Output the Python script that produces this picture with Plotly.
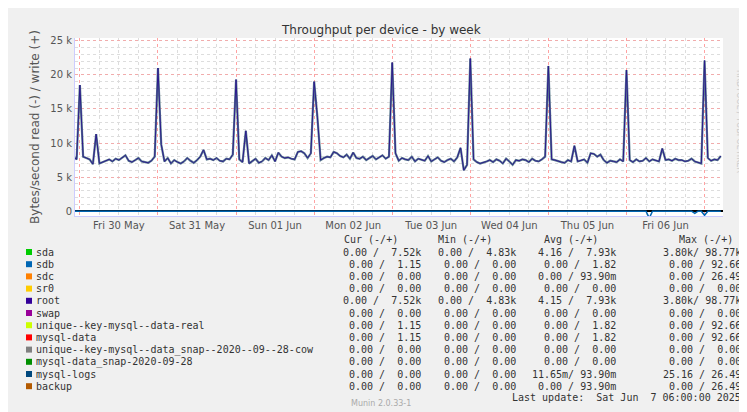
import pandas as pd
import plotly.graph_objects as go

# hourly write throughput (bytes/s), starting 2025-05-29 22:00
write_vals = [
    8000, 7600,
    18500, 8000, 7800, 7600, 6900, 11300, 7000, 7200, 7400, 7600, 7300, 7700, 7500, 7800, 8200, 7400, 7200, 7500, 7800, 7300, 7200, 7100, 7400, 8000,
    21000, 9800, 7300, 7800, 7000, 7500, 7200, 7000, 7300, 7800, 7400, 7100, 7500, 8000, 9000, 7600, 7700, 7500, 7800, 7400, 7300, 7700, 7600, 8300,
    19300, 7600, 7200, 11800, 7000, 7400, 7700, 7100, 7300, 7800, 7500, 8200, 7300, 8600, 8000, 7800, 7900, 7700, 7600, 8700, 8800, 8500, 7800, 8500,
    19000, 13800, 7500, 7800, 8000, 7900, 8700, 8500, 8100, 7900, 8300, 7700, 8600, 7800, 7700, 8000, 7500, 7800, 8100, 7600, 7900, 8200, 7700, 8000,
    21800, 8500, 7400, 7800, 7600, 7500, 8000, 7300, 7700, 7600, 7400, 8100, 7300, 7600, 7900, 7400, 7200, 7500, 7700, 7300, 7900, 9300, 6000, 6800,
    22400, 7600, 7200, 7000, 7100, 7300, 7500, 7200, 7600, 7400, 7000, 7700, 7300, 6800, 7500, 7400, 7600, 7500, 7200, 7700, 7400, 7300, 7600, 8000,
    21300, 7600, 7500, 7300, 7200, 7100, 7500, 7300, 9600, 7300, 7400, 7600, 7100, 8500, 8400, 8000, 8300, 7500, 7100, 7400, 7300, 7200, 7600, 7300,
    20700, 7500, 7200, 7600, 7300, 7400, 7800, 7300, 7600, 7400, 7300, 9200, 7500, 7600, 7400, 7700, 7500, 7500, 7300, 7400, 7700, 7300, 7200, 7000,
    22100, 7800, 7400, 7600, 7500, 8100,
]
read_dips = {"2025-06-06 07:00": -1000, "2025-06-06 21:00": -300, "2025-06-07 00:00": -600}

times = pd.date_range("2025-05-29 22:00", periods=len(write_vals), freq="h")
read_vals = [read_dips.get(t.strftime("%Y-%m-%d %H:%M"), 0) for t in times]

legend_names = ["sda", "sdb", "sdc", "sr0", "root", "swap", "unique--key-mysql--data-real", "mysql-data",
                "unique--key-mysql--data_snap--2020--09--28-cow", "mysql-data_snap-2020-09-28", "mysql-logs", "backup"]
legend_colors = ["#00cc00", "#0066b3", "#ff8000", "#ffcc00", "#330099", "#990099", "#ccff00", "#ff0000",
                 "#808080", "#008f00", "#00487d", "#b35a00"]
cur_col = ["0.00 /  7.52k", "0.00 /  1.15", "0.00 /  0.00", "0.00 /  0.00", "0.00 /  7.52k", "0.00 /  0.00",
           "0.00 /  1.15", "0.00 /  1.15", "0.00 /  0.00", "0.00 /  0.00", "0.00 /  0.00", "0.00 /  0.00"]
min_col = ["0.00 /  4.83k", "0.00 /  0.00", "0.00 /  0.00", "0.00 /  0.00", "0.00 /  4.83k", "0.00 /  0.00",
           "0.00 /  0.00", "0.00 /  0.00", "0.00 /  0.00", "0.00 /  0.00", "0.00 /  0.00", "0.00 /  0.00"]
avg_col = ["4.16 /  7.93k", "0.00 /  1.82", "0.00 / 93.90m", "0.00 /  0.00", "4.15 /  7.93k", "0.00 /  0.00",
           "0.00 /  1.82", "0.00 /  1.82", "0.00 /  0.00", "0.00 /  0.00", "11.65m/ 93.90m", "0.00 / 93.90m"]
max_col = ["3.80k/ 98.77k", "0.00 / 92.66", "0.00 / 26.49", "0.00 /  0.00", "3.80k/ 98.77k", "0.00 /  0.00",
           "0.00 / 92.66", "0.00 / 92.66", "0.00 /  0.00", "0.00 /  0.00", "25.16 / 26.49", "0.00 / 26.49"]

L, R, T, B = 67, 715, 30, 208
W, H = 747, 412
def px(x): return (x - L) / (R - L)
def py(y): return (B - y) / (B - T)

fig = go.Figure()
fig.add_trace(go.Scatter(x=times, y=write_vals, mode="lines", line=dict(color="#5d7f90", width=2.2), hoverinfo="skip"))
fig.add_trace(go.Scatter(x=times, y=write_vals, mode="lines", line=dict(color="#2b1a8c", width=1)))
fig.add_trace(go.Scatter(x=times, y=read_vals, mode="lines", line=dict(color="#0066b3", width=1.5)))

mono = dict(family="DejaVu Sans Mono", size=10, color="#333")
ann = []
for i, h in enumerate(["Cur (-/+)", "Min (-/+)", "Avg (-/+)", "Max (-/+)"]):
    ann.append(dict(x=px([392, 486, 592, 727][i]), y=py(232), text=h, xanchor="right"))
for r, name in enumerate(legend_names):
    yy = py(244 + r * 12.2)
    ann.append(dict(x=px(26), y=yy, text=name, xanchor="left"))
    for xr, col in zip([415, 510, 610, 735], [cur_col, min_col, avg_col, max_col]):
        ann.append(dict(x=px(xr), y=yy, text=col[r], xanchor="right"))
ann.append(dict(x=px(735), y=py(389), text="Last update:  Sat Jun  7 06:00:00 2025", xanchor="right"))
for a in ann:
    a.update(xref="paper", yref="paper", showarrow=False, yanchor="middle", font=mono)
ann.append(dict(x=px(373), y=py(13), xref="paper", yref="paper", showarrow=False, text="Throughput per device - by week",
                font=dict(family="DejaVu Sans", size=12, color="#333")))
ann.append(dict(x=px(373), y=py(402), xref="paper", yref="paper", showarrow=False, text="Munin 2.0.33-1",
                font=dict(family="DejaVu Sans", size=8, color="#aaa")))
ann.append(dict(x=px(738), y=py(60), xref="paper", yref="paper", showarrow=False, text="RRDTOOL / TOBI OETIKER",
                textangle=90, font=dict(family="DejaVu Sans", size=8, color="#ccc")))

shapes = [dict(type="rect", xref="paper", yref="paper", x0=px(18), x1=px(24), y0=py(244 + r * 12.2 - 3),
               y1=py(244 + r * 12.2 + 3), fillcolor=c, line=dict(width=0)) for r, c in enumerate(legend_colors)]

fig.update_layout(
    width=W, height=H, margin=dict(l=L, r=W - R, t=T, b=H - B, autoexpand=False),
    paper_bgcolor="#f0f0f0", plot_bgcolor="white", showlegend=False,
    annotations=ann, shapes=shapes,
    font=dict(family="DejaVu Sans", size=10, color="#555"),
    xaxis=dict(range=["2025-05-29 22:30", "2025-06-07 05:40"], tick0="2025-05-30", dtick=86400000,
               ticklabelmode="period", tickformat="%a %d %b", ticks="",
               showgrid=True, gridcolor="rgba(255,100,100,0.6)", griddash="dot", gridwidth=1,
               minor=dict(dtick=21600000, showgrid=True, gridcolor="#ddd", griddash="dot"),
               showline=True, linecolor="#ccccff", zeroline=False),
    yaxis=dict(range=[-700, 25400], tickvals=[0, 5000, 10000, 15000, 20000, 25000],
               ticktext=["0", "5 k", "10 k", "15 k", "20 k", "25 k"],
               showgrid=True, gridcolor="rgba(255,140,140,0.6)", griddash="dot",
               minor=dict(dtick=1000, showgrid=True, gridcolor="#ddd", griddash="dot"),
               zeroline=True, zerolinecolor="black", zerolinewidth=1.5,
               showline=True, linecolor="#ccccff",
               title=dict(text="Bytes/second read (-) / write (+)", standoff=8)),
)
fig.write_html("out.html")
